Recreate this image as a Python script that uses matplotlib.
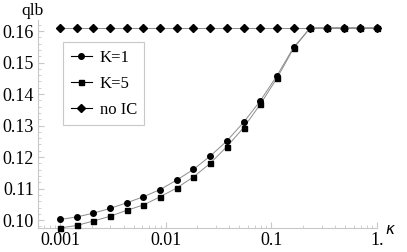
import matplotlib
matplotlib.use('Agg')
import matplotlib.pyplot as plt
from matplotlib.lines import Line2D
from matplotlib.ticker import FixedLocator, MultipleLocator, LogLocator, NullFormatter

# ===== Data ===== #

kappa = [0.001, 0.001438, 0.002069, 0.002976, 0.004281, 0.006158, 0.008859,
         0.01274, 0.01833, 0.02637, 0.03793, 0.05456, 0.07848, 0.1129,
         0.1624, 0.2336, 0.336, 0.4833, 0.6952, 1.0]

qlb_k1 = [0.1002, 0.1010, 0.1022, 0.1037, 0.1055, 0.1074, 0.1097, 0.1127,
          0.1161, 0.1203, 0.1251, 0.1310, 0.1378, 0.1458, 0.1548, 0.1610,
          0.1610, 0.1610, 0.1610, 0.1610]

qlb_k5 = [0.0975, 0.0983, 0.0997, 0.1012, 0.1031, 0.1048, 0.1074, 0.1102,
          0.1137, 0.1180, 0.1233, 0.1293, 0.1367, 0.1450, 0.1545, 0.1610,
          0.1610, 0.1610, 0.1610, 0.1610]

qlb_noic = [0.1610] * 20

x_ticks = [0.001, 0.01, 0.1, 1.0]
x_tick_labels = ['0.001', '0.01', '0.1', '1.']
y_ticks = [0.10, 0.11, 0.12, 0.13, 0.14, 0.15, 0.16]
y_tick_labels = ['0.10', '0.11', '0.12', '0.13', '0.14', '0.15', '0.16']

# ===== Plot ===== #

plt.rcParams['font.family'] = ['Liberation Serif', 'DejaVu Serif']
plt.rcParams['font.size'] = 12

fig = plt.figure(figsize=(4.07, 2.52), dpi=100)
ax = fig.add_axes([38 / 407, 24 / 252, 339 / 407, 208 / 252])

line_color = '#8c8c8c'
axis_color = '#c8c8c8'

ax.plot(kappa, qlb_noic, color=line_color, lw=0.7, marker='D', ms=3.6,
        mfc='black', mec='black', clip_on=False, zorder=3)
ax.plot(kappa, qlb_k5, color=line_color, lw=0.7, marker='s', ms=3.6,
        mfc='black', mec='black', clip_on=False, zorder=3)
ax.plot(kappa, qlb_k1, color=line_color, lw=0.7, marker='o', ms=4.0,
        mfc='black', mec='black', clip_on=False, zorder=3)

ax.set_xscale('log')
ax.set_xlim(0.00062, 1.0)
ax.set_ylim(0.0975, 0.1635)

ax.xaxis.set_major_locator(FixedLocator(x_ticks))
ax.set_xticklabels(x_tick_labels)
ax.xaxis.set_minor_locator(LogLocator(base=10, subs=range(2, 10)))
ax.xaxis.set_minor_formatter(NullFormatter())
ax.set_yticks(y_ticks)
ax.set_yticklabels(y_tick_labels)
ax.yaxis.set_minor_locator(MultipleLocator(0.002))

for side in ['top', 'right']:
    ax.spines[side].set_visible(False)
for side in ['left', 'bottom']:
    ax.spines[side].set_color(axis_color)
    ax.spines[side].set_linewidth(0.8)

ax.tick_params(which='major', direction='in', length=4, color=axis_color,
               labelsize=13, pad=3)
ax.tick_params(which='minor', direction='in', length=2, color=axis_color)

# axis labels sit at the ends of the axes
fig.text(32 / 407, 1 - 11 / 252, 'qlb', ha='center', va='center', fontsize=12.5)
fig.text(390 / 407, 1 - 230 / 252, 'κ', ha='center', va='center',
         fontsize=11, style='italic', family='DejaVu Sans')

# legend handles in black
handles = [
    Line2D([], [], color='black', lw=0.8, marker='o', ms=4.0),
    Line2D([], [], color='black', lw=0.8, marker='s', ms=3.6),
    Line2D([], [], color='black', lw=0.8, marker='D', ms=3.6),
]
leg = fig.legend(handles, ['K=1', 'K=5', 'no IC'], loc='upper left',
                 bbox_to_anchor=(63 / 407, 1 - 42 / 252), borderaxespad=0,
                 fancybox=False, edgecolor=axis_color, framealpha=1,
                 handlelength=1.3, handletextpad=0.45, labelspacing=0.6,
                 borderpad=0.45, fontsize=12)
leg.get_frame().set_linewidth(0.8)

fig.savefig('out.png', dpi=100)
